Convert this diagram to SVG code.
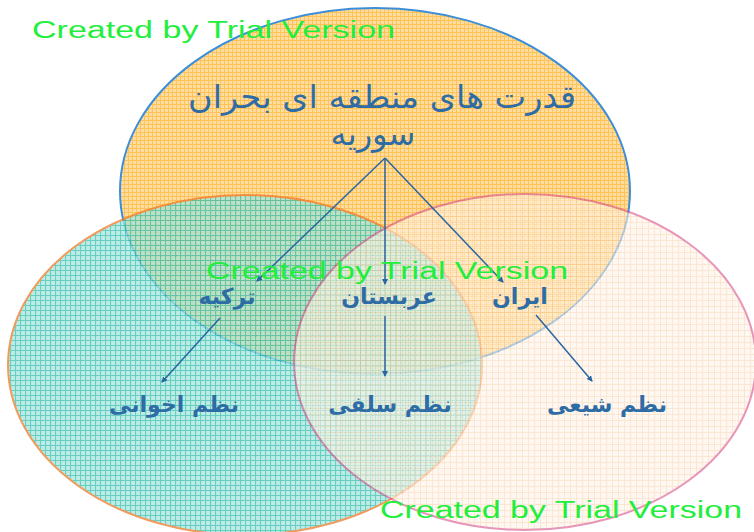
<svg xmlns="http://www.w3.org/2000/svg" width="754" height="532" viewBox="0 0 754 532">
<style>
.ar{font-family:"DejaVu Sans",sans-serif;fill:#2E6CA5;text-anchor:middle;direction:rtl}
.t{font-size:32px}
.b{font-size:22px;font-weight:bold}
.wm{font-family:"Liberation Sans",Arial,sans-serif;font-size:23px;fill:#22EE3C}
.cn{stroke:#2A66A0;stroke-width:1.5;fill:none;marker-end:url(#ah)}
</style>
<defs>
<pattern id="pOr" width="4" height="4" patternUnits="userSpaceOnUse">
<rect width="4" height="4" fill="#FFDDA0"/>
<path d="M0 0.5H4M0.5 0V4" stroke="#FFC256" stroke-width="1"/>
</pattern>
<pattern id="pTe" width="5" height="5" patternUnits="userSpaceOnUse">
<rect width="5" height="5" fill="#A8E6DE"/>
<path d="M0 0.5H5M0.5 0V5" stroke="#34C0AE" stroke-width="1.2"/>
</pattern>
<pattern id="pPe" width="6" height="6" patternUnits="userSpaceOnUse">
<rect width="6" height="6" fill="#FFF5EA"/>
<path d="M0 0.5H6M0.5 0V6" stroke="#FAD8B4" stroke-width="1"/>
</pattern>
<marker id="ah" markerWidth="6" markerHeight="6" refX="5" refY="3" orient="auto" markerUnits="userSpaceOnUse">
<path d="M0 0L6 3L0 6z" fill="#2A66A0"/>
</marker>
</defs>
<rect width="754" height="532" fill="#FFFFFF"/>
<g id="circle-top">
<ellipse cx="375" cy="191" rx="255" ry="183" fill="url(#pOr)" stroke="#3C8ED8" stroke-width="2"/>
</g>
<g id="circle-left" opacity="0.75">
<ellipse cx="245" cy="365" rx="237" ry="170" fill="url(#pTe)" stroke="#F07A28" stroke-width="2"/>
</g>
<g id="circle-right" opacity="0.6">
<ellipse cx="525" cy="362" rx="231" ry="168" fill="url(#pPe)" stroke="#D8508C" stroke-width="2"/>
</g>
<g id="connectors">
<line class="cn" x1="385" y1="158" x2="257" y2="281"/>
<line class="cn" x1="385" y1="158" x2="385" y2="284"/>
<line class="cn" x1="385" y1="158" x2="503" y2="282"/>
<line class="cn" x1="220" y1="318" x2="162" y2="382"/>
<line class="cn" x1="385" y1="316" x2="385" y2="376"/>
<line class="cn" x1="536" y1="315" x2="592" y2="381"/>
</g>
<g id="title">
<text class="ar t" x="382" y="108" textLength="388" lengthAdjust="spacingAndGlyphs">قدرت های منطقه ای بحران</text>
<text class="ar t" x="373" y="145">سوریه</text>
</g>
<g id="node-turkey"><text class="ar b" x="227" y="304">ترکیه</text></g>
<g id="node-arabia"><text class="ar b" x="389" y="304">عربستان</text></g>
<g id="node-iran"><text class="ar b" x="520" y="304">ایران</text></g>
<g id="node-ikhwan"><text class="ar b" x="174" y="412">نظم اخوانی</text></g>
<g id="node-salafi"><text class="ar b" x="390" y="412">نظم سلفی</text></g>
<g id="node-shia"><text class="ar b" x="607" y="412">نظم شیعی</text></g>
<g id="watermarks">
<text class="wm" x="32" y="38" textLength="363" lengthAdjust="spacingAndGlyphs">Created by Trial Version</text>
<text class="wm" x="206" y="279" textLength="362" lengthAdjust="spacingAndGlyphs">Created by Trial Version</text>
<text class="wm" x="380" y="518" textLength="362" lengthAdjust="spacingAndGlyphs">Created by Trial Version</text>
</g>
</svg>
